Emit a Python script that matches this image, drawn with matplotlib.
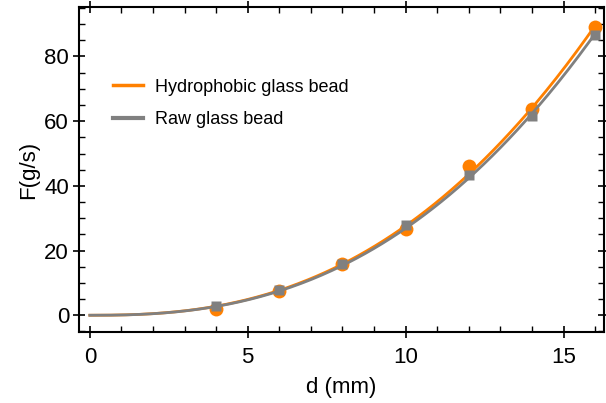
import numpy as np
import matplotlib
matplotlib.use("Agg")
import matplotlib.pyplot as plt
from matplotlib.lines import Line2D
from matplotlib.ticker import MultipleLocator

plt.rcParams['font.family'] = ['Liberation Sans', 'DejaVu Sans']

d_mm = [4, 6, 8, 10, 12, 14, 16]
F_hydrophobic = [1.9, 7.4, 15.7, 26.8, 46.1, 63.7, 89.0]
F_raw = [2.8, 7.8, 15.9, 27.8, 43.5, 61.6, 86.7]
fit_exponent = 2.5
labels = ["Hydrophobic glass bead", "Raw glass bead"]

orange = "#FF8000"
gray = "#808080"

x = np.array(d_mm, dtype=float)
def fit_coef(y):
    y = np.array(y, dtype=float)
    b = x ** fit_exponent
    return np.sum(y * b) / np.sum(b * b)

a_h = fit_coef(F_hydrophobic)
a_r = fit_coef(F_raw)
xs = np.linspace(0, 16, 300)

fig = plt.figure(figsize=(6.06, 4.03), dpi=100)
ax = fig.add_axes([0.130, 0.176, 0.8667, 0.8066])

ax.plot(xs, a_h * xs ** fit_exponent, color=orange, lw=2.0, zorder=2)
ax.plot(x, F_hydrophobic, 'o', color=orange, ms=10, mec='none', zorder=3)
ax.plot(xs, a_r * xs ** fit_exponent, color=gray, lw=2.0, zorder=4)
ax.plot(x, F_raw, 's', color=gray, ms=7, mec='none', zorder=5)

ax.set_xlim(-0.35, 16.28)
ax.set_ylim(-5.2, 95.3)

ax.xaxis.set_major_locator(MultipleLocator(5))
ax.xaxis.set_minor_locator(MultipleLocator(1))
ax.yaxis.set_major_locator(MultipleLocator(20))
ax.yaxis.set_minor_locator(MultipleLocator(5))

ax.tick_params(which='major', direction='inout', length=8, width=1.2,
               top=True, right=True, labelsize=16, colors='black')
ax.tick_params(which='minor', direction='in', length=4, width=1.0,
               top=True, right=True)
ax.tick_params(axis='x', which='major', pad=7)
ax.tick_params(axis='y', which='major', pad=3)

for s in ax.spines.values():
    s.set_linewidth(1.5)

ax.set_xlabel("d (mm)", fontsize=16, labelpad=6)
ax.set_ylabel("F(g/s)", fontsize=16, labelpad=4)

handles = [Line2D([], [], color=orange, lw=2.5),
           Line2D([], [], color=gray, lw=3)]
ax.legend(handles, labels, loc='upper left', bbox_to_anchor=(0.034, 0.83),
          frameon=False, fontsize=13, handlelength=1.65, handletextpad=0.7,
          labelspacing=0.85)

fig.savefig("out.png", dpi=100)
